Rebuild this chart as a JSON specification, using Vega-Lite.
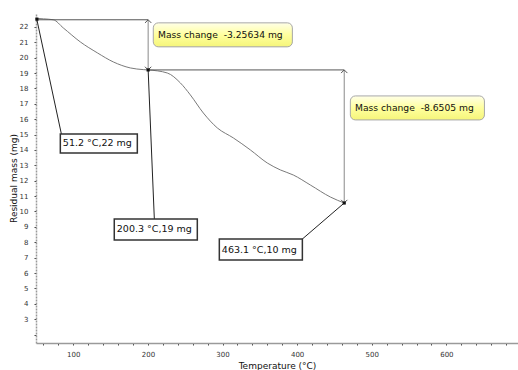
{
  "$schema": "https://vega.github.io/schema/vega-lite/v6.json",
  "width": 482,
  "height": 330,
  "autosize": "none",
  "padding": {"left": 36, "top": 13, "right": 0, "bottom": 27},
  "background": "white",
  "config": {"view": {"stroke": null}, "font": "DejaVu Sans"},
  "datasets": {
    "curve": [
      {"T": 51.2, "m": 22.55}, {"T": 60, "m": 22.52}, {"T": 73.2, "m": 22.46}, {"T": 86.6, "m": 21.93},
      {"T": 109.4, "m": 21.02}, {"T": 132.2, "m": 20.31}, {"T": 153.6, "m": 19.72}, {"T": 176.4, "m": 19.33},
      {"T": 193.8, "m": 19.22}, {"T": 200.3, "m": 19.2}, {"T": 226, "m": 19.0}, {"T": 243.4, "m": 18.36},
      {"T": 256.8, "m": 17.58}, {"T": 274.3, "m": 16.4}, {"T": 293, "m": 15.43}, {"T": 314.5, "m": 14.78},
      {"T": 337.3, "m": 14.0}, {"T": 360, "m": 13.15}, {"T": 377.5, "m": 12.7}, {"T": 394.9, "m": 12.37},
      {"T": 417.7, "m": 11.72}, {"T": 444.5, "m": 10.94}, {"T": 463.1, "m": 10.55}
    ],
    "guides": [
      {"x": 51.2, "x2": 200.3, "y": 22.46, "y2": 22.46, "kind": "h"},
      {"x": 200.3, "x2": 463.1, "y": 19.2, "y2": 19.2, "kind": "h"},
      {"x": 200.3, "x2": 200.3, "y": 22.46, "y2": 19.2, "kind": "v"},
      {"x": 463.1, "x2": 463.1, "y": 19.2, "y2": 10.55, "kind": "v"}
    ],
    "leaders": [
      {"x": 51.2, "x2": 84, "y": 22.46, "y2": 15.04},
      {"x": 200.3, "x2": 208.6, "y": 19.2, "y2": 9.51},
      {"x": 463.1, "x2": 407, "y": 10.55, "y2": 8.21}
    ],
    "arrowsUp": [{"T": 200.3, "m": 22.46}, {"T": 463.1, "m": 19.2}],
    "arrowsDown": [{"T": 200.3, "m": 19.2}, {"T": 463.1, "m": 10.55}],
    "marks": [{"T": 51.2, "m": 22.5}, {"T": 200.3, "m": 19.2}, {"T": 463.1, "m": 10.55}],
    "boxes": [
      {"x": 82.6, "x2": 185.8, "y": 15.04, "y2": 13.8, "tx": 86, "ty": 14.42, "label": "51.2 °C,22 mg"},
      {"x": 154.9, "x2": 266.2, "y": 9.51, "y2": 8.14, "tx": 158.3, "ty": 8.83, "label": "200.3 °C,19 mg"},
      {"x": 295.7, "x2": 407, "y": 8.21, "y2": 6.84, "tx": 299.1, "ty": 7.52, "label": "463.1 °C,10 mg"}
    ],
    "yellow": [
      {"x": 207.2, "x2": 393.6, "y": 22.26, "y2": 20.7, "tx": 213.5, "ty": 21.48, "label": "Mass change\u00a0 -3.25634 mg"},
      {"x": 471.3, "x2": 651, "y": 17.51, "y2": 15.95, "tx": 477.5, "ty": 16.73, "label": "Mass change\u00a0 -8.6505 mg"}
    ]
  },
  "layer": [
    {
      "data": {"name": "curve"},
      "mark": {"type": "line", "color": "#7a7a7a", "strokeWidth": 1, "interpolate": "monotone", "clip": true},
      "encoding": {
        "x": {
          "field": "T", "type": "quantitative",
          "scale": {"domain": [50, 696], "nice": false, "zero": false},
          "axis": {
            "title": "Temperature (°C)",
            "values": [60, 80, 100, 120, 140, 160, 180, 200, 220, 240, 260, 280, 300, 320, 340, 360, 380, 400, 420, 440, 460, 480, 500, 520, 540, 560, 580, 600, 620, 640, 660, 680],
            "tickCount": 1000,
            "format": "d",
            "labelExpr": "datum.value % 100 == 0 ? datum.label : ''",
            "labelOverlap": false,
            "grid": false,
            "domainColor": "#9a9a9a", "domainWidth": 1.5,
            "tickColor": "#444", "tickSize": 2, "tickWidth": 1,
            "labelFontSize": 7, "labelColor": "#333", "labelPadding": 5,
            "titleFontSize": 9, "titleFontWeight": "normal", "titleColor": "#111", "titlePadding": 4
          }
        },
        "y": {
          "field": "m", "type": "quantitative",
          "scale": {"domain": [1.45, 22.9], "nice": false, "zero": false},
          "axis": {
            "title": "Residual mass (mg)",
            "values": [2, 2.5, 3, 3.5, 4, 4.5, 5, 5.5, 6, 6.5, 7, 7.5, 8, 8.5, 9, 9.5, 10, 10.5, 11, 11.5, 12, 12.5, 13, 13.5, 14, 14.5, 15, 15.5, 16, 16.5, 17, 17.5, 18, 18.5, 19, 19.5, 20, 20.5, 21, 21.5, 22, 22.5],
            "tickCount": 1000,
            "format": "d",
            "labelExpr": "(datum.value % 1 == 0 && datum.value >= 3) ? datum.label : ''",
            "labelOverlap": false,
            "grid": false,
            "domainColor": "#9a9a9a", "domainWidth": 1.5, "domainDash": [2, 1],
            "tickColor": "#444", "tickSize": 2, "tickWidth": 1,
            "labelFontSize": 7, "labelColor": "#333", "labelPadding": 6,
            "titleFontSize": 9, "titleFontWeight": "normal", "titleColor": "#111", "titlePadding": 1
          }
        }
      }
    },
    {
      "data": {"name": "guides"},
      "mark": {"type": "rule", "strokeWidth": 1},
      "encoding": {
        "x": {"field": "x", "type": "quantitative"},
        "x2": {"field": "x2"},
        "y": {"field": "y", "type": "quantitative"},
        "y2": {"field": "y2"},
        "color": {"field": "kind", "type": "nominal", "scale": {"domain": ["h", "v"], "range": ["#555555", "#8a8a8a"]}, "legend": null}
      }
    },
    {
      "data": {"name": "leaders"},
      "mark": {"type": "rule", "strokeWidth": 1, "color": "#222"},
      "encoding": {
        "x": {"field": "x", "type": "quantitative"},
        "x2": {"field": "x2"},
        "y": {"field": "y", "type": "quantitative"},
        "y2": {"field": "y2"}
      }
    },
    {
      "data": {"name": "arrowsUp"},
      "mark": {"type": "point", "shape": "M-1,1L0,0L1,1", "filled": false, "size": 40, "color": "#555", "strokeWidth": 1, "opacity": 1},
      "encoding": {
        "x": {"field": "T", "type": "quantitative"},
        "y": {"field": "m", "type": "quantitative"}
      }
    },
    {
      "data": {"name": "arrowsDown"},
      "mark": {"type": "point", "shape": "M-1,-1L0,0L1,-1", "filled": false, "size": 40, "color": "#555", "strokeWidth": 1, "opacity": 1},
      "encoding": {
        "x": {"field": "T", "type": "quantitative"},
        "y": {"field": "m", "type": "quantitative"}
      }
    },
    {
      "data": {"name": "marks"},
      "mark": {"type": "square", "size": 10, "color": "#111", "opacity": 1},
      "encoding": {
        "x": {"field": "T", "type": "quantitative"},
        "y": {"field": "m", "type": "quantitative"}
      }
    },
    {
      "data": {"name": "boxes"},
      "mark": {"type": "rect", "fill": "white", "stroke": "#333", "strokeWidth": 1.5},
      "encoding": {
        "x": {"field": "x", "type": "quantitative"},
        "x2": {"field": "x2"},
        "y": {"field": "y", "type": "quantitative"},
        "y2": {"field": "y2"}
      }
    },
    {
      "data": {"name": "boxes"},
      "mark": {"type": "text", "align": "left", "baseline": "middle", "fontSize": 9.5, "color": "#111"},
      "encoding": {
        "x": {"field": "tx", "type": "quantitative"},
        "y": {"field": "ty", "type": "quantitative"},
        "text": {"field": "label"}
      }
    },
    {
      "data": {"name": "yellow"},
      "mark": {"type": "rect", "fill": "#b0b0b0", "cornerRadius": 5, "xOffset": 1.5, "yOffset": 1.5},
      "encoding": {
        "x": {"field": "x", "type": "quantitative"},
        "x2": {"field": "x2"},
        "y": {"field": "y", "type": "quantitative"},
        "y2": {"field": "y2"}
      }
    },
    {
      "data": {"name": "yellow"},
      "mark": {
        "type": "rect", "cornerRadius": 5, "stroke": "#a8a8a8", "strokeWidth": 1,
        "fill": {"gradient": "linear", "x1": 0, "y1": 0, "x2": 0, "y2": 1,
          "stops": [{"offset": 0, "color": "#ffffe8"}, {"offset": 0.5, "color": "#ffff9e"}, {"offset": 1, "color": "#f5f57a"}]}
      },
      "encoding": {
        "x": {"field": "x", "type": "quantitative"},
        "x2": {"field": "x2"},
        "y": {"field": "y", "type": "quantitative"},
        "y2": {"field": "y2"}
      }
    },
    {
      "data": {"name": "yellow"},
      "mark": {"type": "text", "align": "left", "baseline": "middle", "fontSize": 9.2, "color": "#111"},
      "encoding": {
        "x": {"field": "tx", "type": "quantitative"},
        "y": {"field": "ty", "type": "quantitative"},
        "text": {"field": "label"}
      }
    }
  ]
}
